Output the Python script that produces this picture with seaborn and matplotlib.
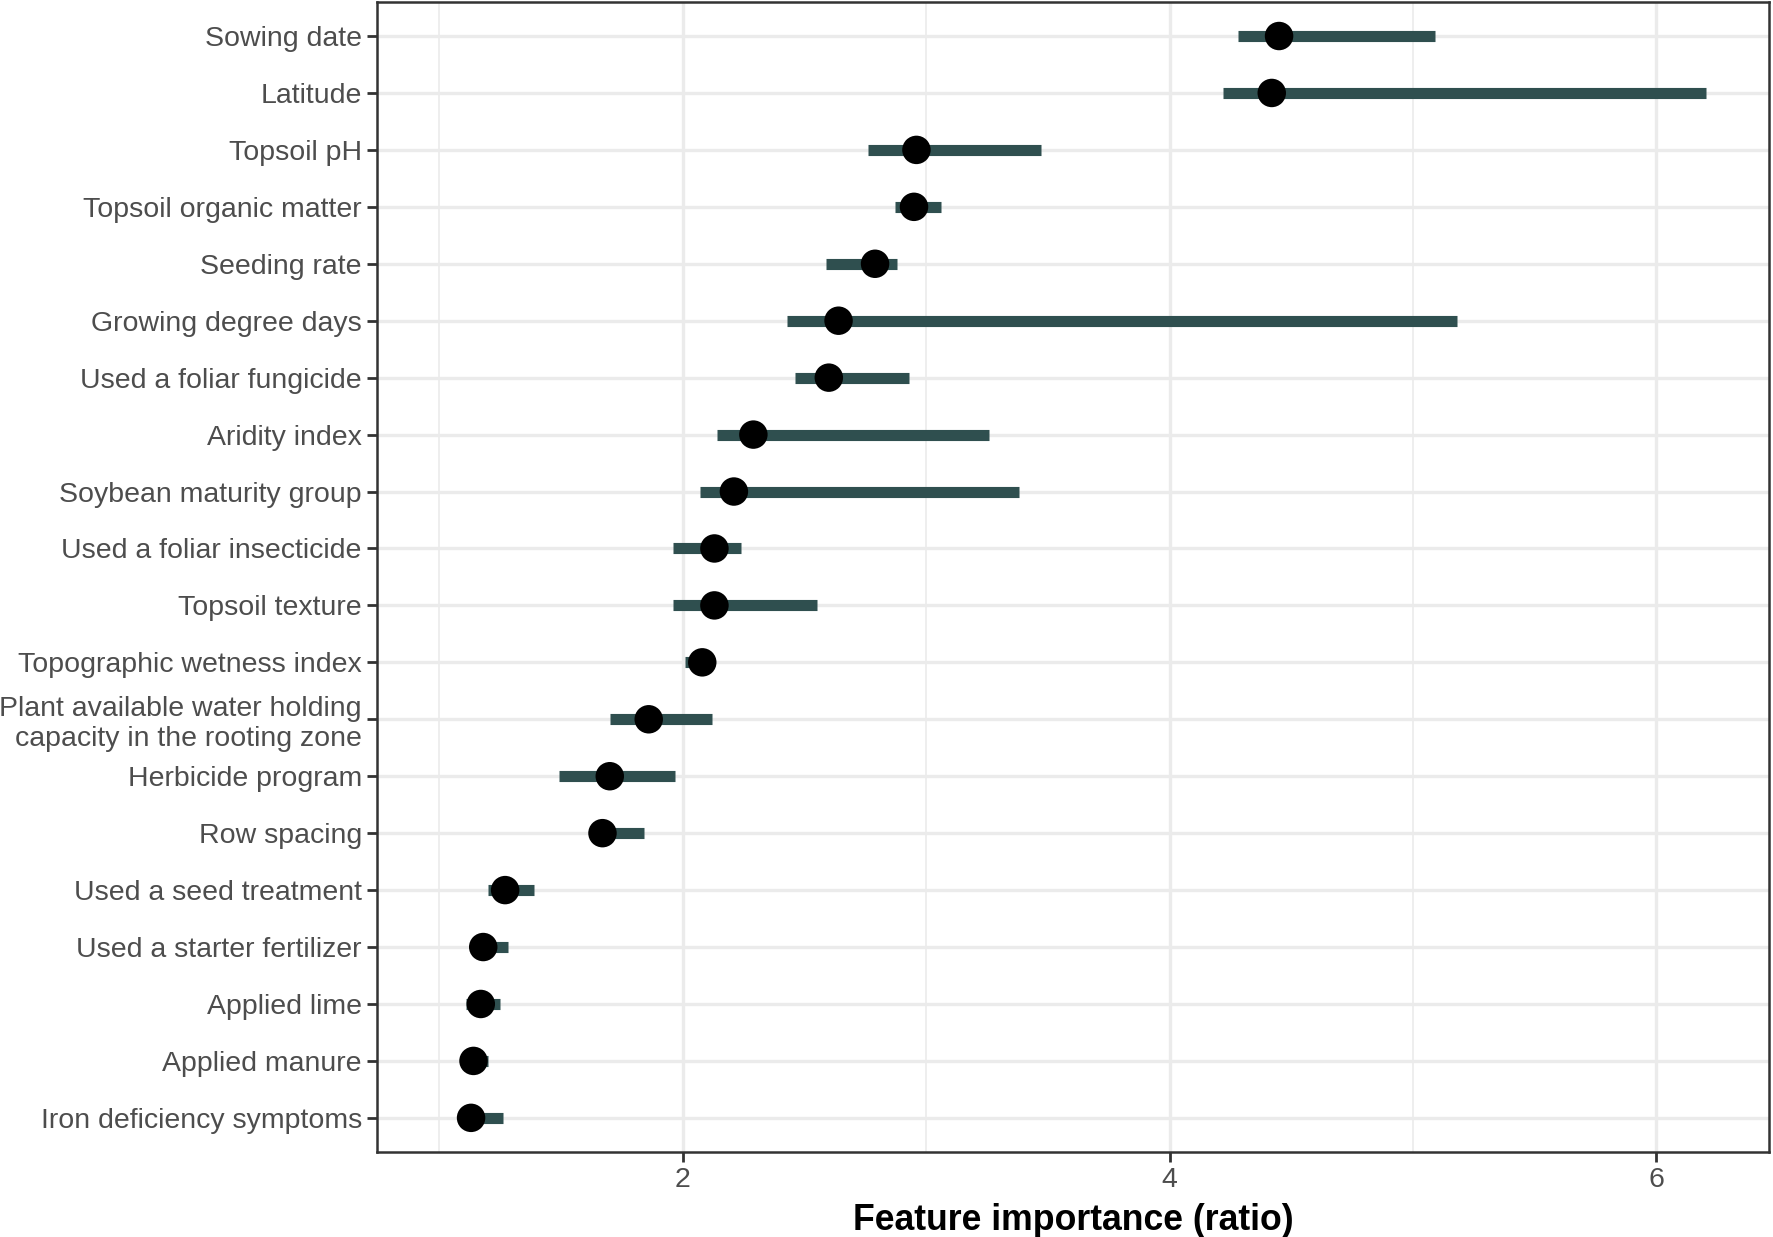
import numpy as np
import pandas as pd
import matplotlib
matplotlib.use('Agg')
import matplotlib.pyplot as plt
import seaborn as sns

features = [
    'Sowing date', 'Latitude', 'Topsoil pH', 'Topsoil organic matter',
    'Seeding rate', 'Growing degree days', 'Used a foliar fungicide',
    'Aridity index', 'Soybean maturity group', 'Used a foliar insecticide',
    'Topsoil texture', 'Topographic wetness index',
    'Plant available water holding\ncapacity in the rooting zone',
    'Herbicide program', 'Row spacing', 'Used a seed treatment',
    'Used a starter fertilizer', 'Applied lime', 'Applied manure',
    'Iron deficiency symptoms',
]
importance = [4.45, 4.42, 2.96, 2.95, 2.79, 2.64, 2.60, 2.29, 2.21, 2.13,
              2.13, 2.08, 1.86, 1.70, 1.67, 1.27, 1.18, 1.17, 1.14, 1.13]
lower = [4.28, 4.22, 2.76, 2.87, 2.59, 2.43, 2.46, 2.14, 2.07, 1.96,
         1.96, 2.01, 1.70, 1.49, 1.62, 1.20, 1.14, 1.11, 1.09, 1.08]
upper = [5.09, 6.205, 3.47, 3.06, 2.88, 5.18, 2.93, 3.26, 3.38, 2.24,
         2.55, 2.10, 2.12, 1.97, 1.84, 1.39, 1.28, 1.25, 1.20, 1.26]

df = pd.DataFrame({'feature': features, 'importance': importance,
                   'lower': lower, 'upper': upper})
df['pos'] = np.arange(len(df))

sns.set_theme(style='white')
plt.rcParams['font.family'] = ['Liberation Sans', 'DejaVu Sans']

fig = plt.figure(figsize=(17.73, 12.37), dpi=100)
ax = fig.add_axes([0.2127, 0.0687, 0.998 - 0.2127, 0.9985 - 0.0687])

# grid like theme_bw
for v in [1, 3, 5]:
    ax.axvline(v, color='#EBEBEB', lw=1.2, zorder=0)
for v in [2, 4, 6]:
    ax.axvline(v, color='#EBEBEB', lw=2.4, zorder=0)
for p in df['pos']:
    ax.axhline(p, color='#EBEBEB', lw=2.4, zorder=0)

ax.hlines(df['pos'], df['lower'], df['upper'], color='#2F4F4F', lw=8, zorder=2)
sns.scatterplot(data=df, x='importance', y='pos', color='black', s=420,
                edgecolor='none', ax=ax, zorder=3)

ax.set_xlim(0.744, 6.465)
ax.set_ylim(len(df) - 0.4, -0.6)
ax.set_xticks([2, 4, 6])
ax.set_xticklabels(['2', '4', '6'])
ax.set_yticks(df['pos'])
ax.set_yticklabels(df['feature'], linespacing=1.2)

ax.tick_params(axis='both', which='both', direction='out', length=7, width=2,
               color='#333333', labelcolor='#4D4D4D', labelsize=20.5, pad=4,
               left=True, bottom=True)
for s in ax.spines.values():
    s.set_color('#333333')
    s.set_linewidth(1.8)

ax.set_xlabel('Feature importance (ratio)', fontsize=25.7, fontweight='bold',
              color='black', labelpad=7)
ax.set_ylabel('')

fig.savefig('out.png', dpi=100)
